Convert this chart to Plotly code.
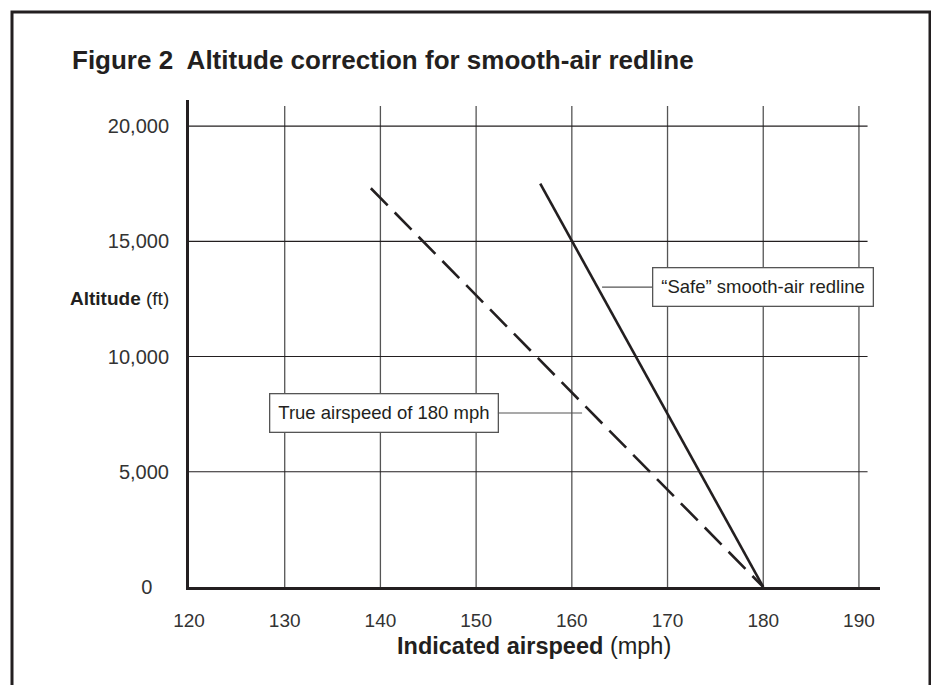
import plotly.graph_objects as go

# ---- data ----
x_ticks = [120, 130, 140, 150, 160, 170, 180, 190]
y_ticks = [0, 5000, 10000, 15000, 20000]
y_tick_labels = ["0\u00a0\u00a0\u00a0", "5,000", "10,000", "15,000", "20,000"]

safe_speed = [156.7, 180]
safe_alt = [17500, 0]
true_speed = [139, 180]
true_alt = [17300, 0]

# ---- layout geometry (pixels); page body adds an 8px offset ----
W, H = 931, 685
L, R, T, B = 181, 59, 92, 106
PW, PH = W - L - R, H - T - B


def px(xs):  # screen x -> paper
    return (xs - 8 - L) / PW


def py(ys):  # screen y -> paper
    return (H - B - (ys - 8)) / PH


INK = "#231f20"
GRID = "#555555"
FONT = "Liberation Sans, Arial, Helvetica, sans-serif"

fig = go.Figure()
fig.add_trace(go.Scatter(x=safe_speed, y=safe_alt, mode="lines",
                         line=dict(color=INK, width=2.6), hoverinfo="skip"))
fig.add_trace(go.Scatter(x=true_speed, y=true_alt, mode="lines",
                         line=dict(color=INK, width=2.6, dash="24px,10px"),
                         hoverinfo="skip"))

shapes = []
for xv in x_ticks[1:]:
    shapes.append(dict(type="line", xref="x", yref="y", x0=xv, x1=xv, y0=0, y1=20870,
                       line=dict(color=GRID, width=1.3), layer="below"))
for yv in y_ticks[1:]:
    shapes.append(dict(type="line", xref="x", yref="y", x0=120, x1=190.9, y0=yv, y1=yv,
                       line=dict(color=INK, width=1.2), layer="below"))
shapes.append(dict(type="path", xref="paper", yref="paper",
                   path=f"M {px(12)} {py(720)} L {px(12)} {py(12)} L {px(930)} {py(12)} L {px(930)} {py(720)}",
                   line=dict(color=INK, width=3)))

annotations = [
    dict(text="<b>Figure 2  Altitude correction for smooth-air redline</b>",
         xref="paper", yref="paper", x=px(70), y=py(60), xanchor="left", yanchor="middle",
         showarrow=False, font=dict(family=FONT, size=26, color=INK)),
    dict(text="<b>Altitude</b> (ft)", xref="paper", yref="paper", x=px(171), y=py(298),
         xanchor="right", yanchor="middle", showarrow=False,
         font=dict(family=FONT, size=19, color=INK)),
    dict(text="<b>Indicated airspeed</b> (mph)", xref="paper", yref="paper", x=px(534), y=py(646),
         xanchor="center", yanchor="middle", showarrow=False,
         font=dict(family=FONT, size=23.5, color=INK)),
    dict(text="“Safe” smooth-air redline", x=163.16, y=13015, xref="x", yref="y",
         showarrow=True, arrowhead=0, arrowwidth=1.2, arrowcolor=GRID, ax=160.5, ay=0,
         bordercolor=GRID, borderwidth=1.3, borderpad=8, bgcolor="white",
         font=dict(family=FONT, size=18.5, color=INK)),
    dict(text="True airspeed of 180 mph", x=161.07, y=7549, xref="x", yref="y",
         showarrow=True, arrowhead=0, arrowwidth=1.2, arrowcolor=GRID, ax=-198.5, ay=0,
         bordercolor=GRID, borderwidth=1.3, borderpad=8, bgcolor="white",
         font=dict(family=FONT, size=18.5, color=INK)),
]

fig.update_layout(
    width=W, height=H,
    margin=dict(l=L, r=R, t=T, b=B),
    paper_bgcolor="white", plot_bgcolor="white",
    showlegend=False,
    shapes=shapes, annotations=annotations,
    font=dict(family=FONT, color="#333333"),
    xaxis=dict(range=[120, 192.2], tickvals=x_ticks, ticktext=[str(v) for v in x_ticks],
               showgrid=False, zeroline=False, showline=True, linecolor=INK, linewidth=3,
               ticks="", ticklabelstandoff=14,
               tickfont=dict(family=FONT, size=19, color="#333333"), fixedrange=True),
    yaxis=dict(range=[0, 21130], tickvals=y_ticks, ticktext=y_tick_labels,
               showgrid=False, zeroline=False, showline=True, linecolor=INK, linewidth=3,
               ticks="", ticklabelstandoff=13,
               tickfont=dict(family=FONT, size=20, color="#333333"), fixedrange=True),
)

fig.write_html("out.html")
